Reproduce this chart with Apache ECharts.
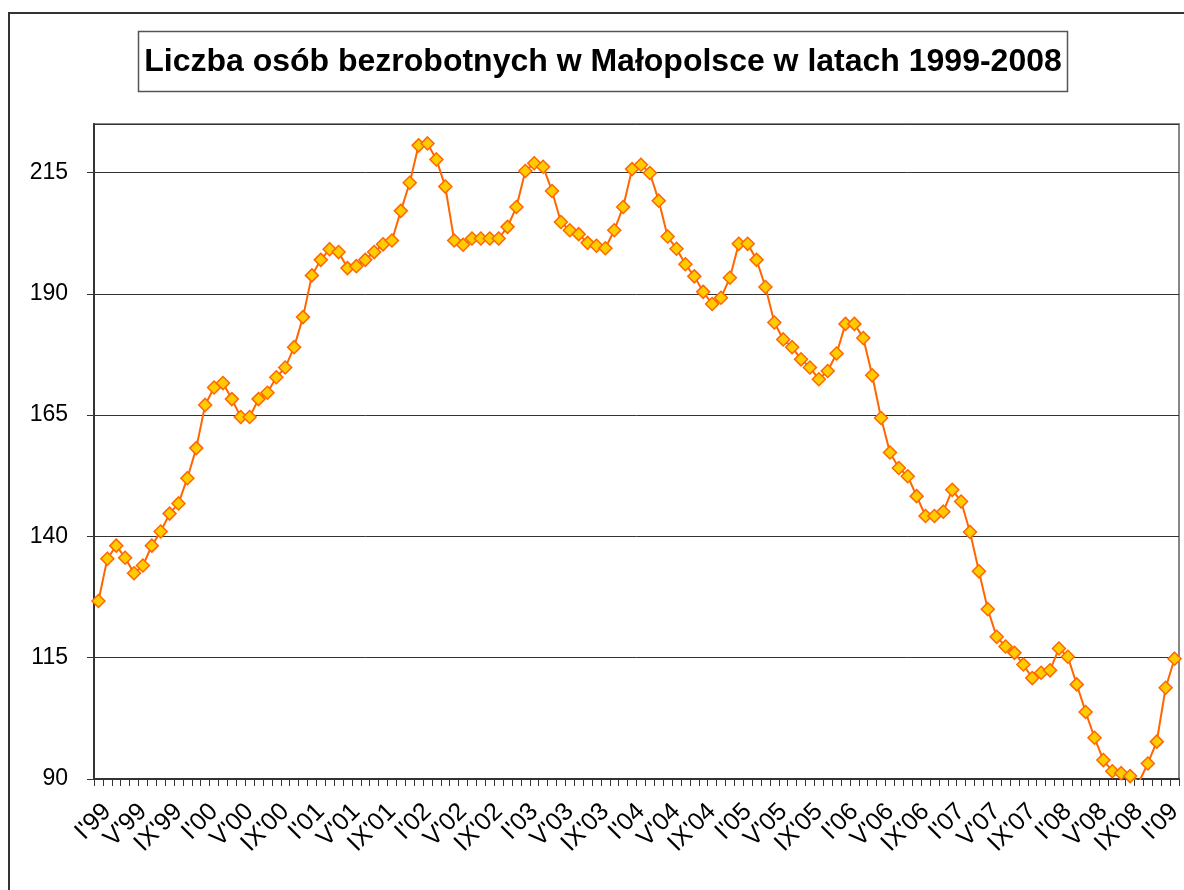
<!DOCTYPE html>
<html>
<head>
<meta charset="utf-8">
<title>Bezrobotni w Małopolsce</title>
<script src="https://cdn.jsdelivr.net/npm/echarts@6/dist/echarts.min.js"></script>
<style>
  html, body { margin: 0; padding: 0; background: #fff; }
  #chart { width: 1184px; height: 890px; }
</style>
</head>
<body>
<div id="chart"></div>
<script>
// liczba bezrobotnych (tys.), odczyt miesięczny I'99 - II'09
const romanMonths = ['I', 'II', 'III', 'IV', 'V', 'VI', 'VII', 'VIII', 'IX', 'X', 'XI', 'XII'];
const years = ['99', '00', '01', '02', '03', '04', '05', '06', '07', '08', '09'];

const v1999 = [126.7, 135.4, 138.1, 135.6, 132.4, 134.0, 138.1, 141.0, 144.7, 146.8, 152.0, 158.2];
const v2000 = [167.1, 170.7, 171.6, 168.3, 164.6, 164.6, 168.3, 169.6, 172.8, 174.8, 179.0, 185.2];
const v2001 = [193.8, 197.0, 199.2, 198.6, 195.3, 195.7, 197.0, 198.6, 200.2, 201.0, 207.1, 212.9];
const v2002 = [220.6, 221.0, 217.7, 212.1, 201.0, 200.1, 201.4, 201.4, 201.4, 201.4, 203.8, 207.9];
const v2003 = [215.3, 216.9, 216.2, 211.2, 204.8, 203.1, 202.3, 200.5, 199.9, 199.4, 203.1, 207.9];
const v2004 = [215.7, 216.6, 214.9, 209.2, 201.8, 199.3, 196.1, 193.6, 190.4, 187.9, 189.2, 193.3];
const v2005 = [200.3, 200.3, 197.0, 191.4, 184.1, 180.6, 179.0, 176.5, 174.8, 172.4, 174.1, 177.7];
const v2006 = [183.8, 183.8, 180.9, 173.2, 164.4, 157.3, 154.1, 152.4, 148.3, 144.2, 144.2, 145.1];
const v2007 = [149.6, 147.2, 140.9, 132.8, 125.0, 119.3, 117.3, 116.0, 113.6, 110.8, 111.9, 112.4];
const v2008 = [116.9, 115.2, 109.5, 103.8, 98.5, 93.9, 91.6, 91.2, 90.6, 89.4, 93.2, 97.7];
const v2009 = [108.8, 114.8];

const yTicks = [90, 115, 140, 165, 190, 215];

const values = [].concat(v1999, v2000, v2001, v2002, v2003, v2004, v2005, v2006, v2007, v2008, v2009);
// etykiety kategorii, np. I'99, V'99 ...
const categories = [];
for (let i = 0; i < values.length; i++) {
    categories.push(romanMonths[i % 12] + "'" + years[Math.floor(i / 12)]);
}

const font = "'Liberation Sans', Arial, sans-serif";
const chart = echarts.init(document.getElementById('chart'));

chart.setOption({
    backgroundColor: '#fff',
    animation: false,
    graphic: [
        // ramka całego wykresu
        { type: 'rect', shape: { x: 9, y: 13, width: 1200, height: 900 },
          style: { fill: null, stroke: '#333', lineWidth: 2 }, silent: true },
        // ramka tytułu
        { type: 'rect', shape: { x: 138.5, y: 31.5, width: 929, height: 60 },
          style: { fill: '#fff', stroke: '#555', lineWidth: 1.5 }, silent: true },
        { type: 'text', x: 603, y: 62,
          style: { text: 'Liczba osób bezrobotnych w Małopolsce w latach 1999-2008',
                   font: 'bold 32px ' + font, fill: '#000',
                   textAlign: 'center', textVerticalAlign: 'middle' } }
    ],
    grid: {
        left: 94, right: 5, top: 124, bottom: 111,
        containLabel: false,
        outerBoundsMode: 'none',
        show: true, borderColor: '#888', borderWidth: 2
    },
    xAxis: {
        type: 'category',
        data: categories,
        boundaryGap: true,
        axisLine: { lineStyle: { color: '#333', width: 2 } },
        axisTick: { show: true, interval: 0, length: 7, lineStyle: { color: '#333', width: 1 } },
        axisLabel: {
            interval: 3, rotate: 45, margin: 20,
            verticalAlign: 'top',
            fontFamily: font, fontSize: 25, color: '#000'
        },
        splitLine: { show: false }
    },
    yAxis: {
        type: 'value',
        min: yTicks[0], max: 225, interval: 25,
        axisLine: { show: true, lineStyle: { color: '#333', width: 2 } },
        axisTick: { show: true, length: 7, lineStyle: { color: '#333' } },
        axisLabel: {
            showMaxLabel: false, margin: 26,
            fontFamily: font, fontSize: 23, color: '#000'
        },
        splitLine: { lineStyle: { color: '#333', width: 1 } }
    },
    series: [{
        type: 'line',
        data: values,
        symbol: 'diamond',
        symbolSize: 13,
        showAllSymbol: true,
        clip: true,
        lineStyle: { color: '#FF6600', width: 2 },
        itemStyle: { color: '#FFCC00', borderColor: '#FF6600', borderWidth: 1.5 }
    }]
});
</script>
</body>
</html>
